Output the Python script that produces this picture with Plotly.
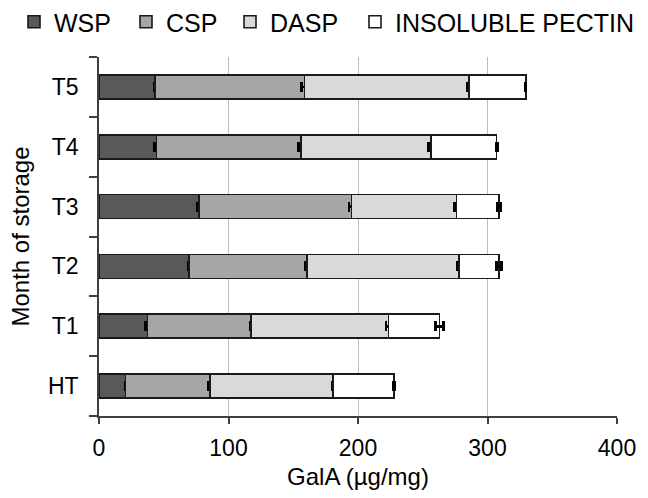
import plotly.graph_objects as go

categories = ["HT", "T1", "T2", "T3", "T4", "T5"]
wsp = [20.5, 37.4, 69.3, 77.2, 44.3, 43.3]
csp = [65.0, 79.8, 91.4, 117.7, 111.6, 115.4]
dasp = [95.2, 106.5, 117.3, 81.3, 100.5, 127.1]
insol = [47.1, 39.3, 30.8, 32.9, 50.7, 43.8]

wsp_err = [0.5, 1.5, 0.5, 1.0, 1.5, 1.0]
csp_err = [1.0, 0.5, 1.5, 2.0, 2.0, 2.5]
dasp_err = [0.5, 2.0, 1.5, 1.5, 2.0, 1.5]
insol_err = [0.5, 3.0, 2.0, 1.5, 0.5, 0.3]

series_names = ["WSP", "CSP", "DASP", "INSOLUBLE PECTIN"]
series_values = [wsp, csp, dasp, insol]
series_errors = [wsp_err, csp_err, dasp_err, insol_err]
series_colors = ["#595959", "#a6a6a6", "#d9d9d9", "#ffffff"]

# left x (px) of each legend entry's text in the reference
legend_text_left = [54, 166, 270, 395]

FONT = "Arial, Liberation Sans, sans-serif"

fig = go.Figure()
legend_ids = ["legend", "legend2", "legend3", "legend4"]
for i, (name, vals, errs, color) in enumerate(zip(series_names, series_values, series_errors, series_colors)):
    fig.add_trace(go.Bar(
        y=categories, x=vals, name=name, orientation="h",
        marker=dict(color=color, line=dict(color="#1a1a1a", width=1.6)),
        width=0.4,
        legend=legend_ids[i],
        error_x=dict(type="data", array=errs, visible=True,
                     color="#000000", thickness=2.5, width=5),
    ))

legend_common = dict(orientation="h", xref="container", xanchor="left",
                     yref="container", y=1 - 22 / 498, yanchor="middle",
                     font=dict(size=25), itemwidth=30, bgcolor="rgba(0,0,0,0)")
legends = {}
for i, lid in enumerate(legend_ids):
    legends[lid] = dict(legend_common, x=(legend_text_left[i] - 40) / 648)

fig.update_layout(
    barmode="stack",
    width=648, height=498,
    margin=dict(l=99, r=22, t=50, b=82),
    paper_bgcolor="white", plot_bgcolor="white",
    font=dict(family=FONT, size=23, color="#000000"),
    showlegend=True,
    xaxis=dict(
        range=[0, 400], dtick=100, tick0=0,
        showgrid=True, gridcolor="#bdbdbd", gridwidth=1,
        showline=True, linecolor="#404040", linewidth=1.5,
        ticks="outside", ticklen=6, tickcolor="#404040", tickwidth=1.5,
        tickfont=dict(size=23), ticklabelstandoff=5,
        title=dict(text="GalA (µg/mg)", font=dict(size=24), standoff=8),
        zeroline=False,
    ),
    yaxis=dict(
        categoryorder="array", categoryarray=categories,
        showline=True, linecolor="#404040", linewidth=1.5,
        ticks="outside", ticklen=8, tickcolor="#404040", tickwidth=1.5,
        tickson="boundaries",
        tickfont=dict(size=23), ticklabelstandoff=14,
        title=dict(text="Month of storage", font=dict(size=24), standoff=12),
        showgrid=False,
    ),
    **legends,
)

fig.write_html("out.html")
